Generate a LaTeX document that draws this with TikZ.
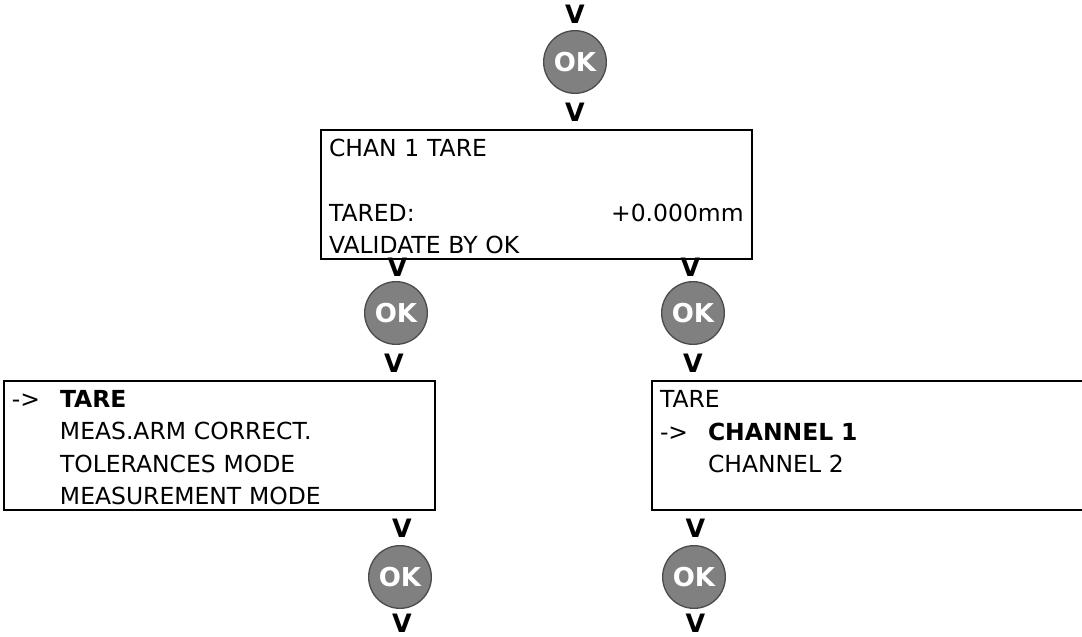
\documentclass[tikz,border=0pt]{standalone}
\usepackage{fontspec}
\setmainfont{DejaVu Sans}
\usetikzlibrary{positioning}

\newcommand{\menuarrow}{\makebox[36pt][l]{->}}
\newcommand{\menuindent}{\hspace*{36pt}}
\newcommand{\menutop}{\rule{0pt}{16pt}}

\tikzset{
  okbutton/.style={circle, draw=black!70, line width=1pt, fill=black!50, text=white,
    minimum size=47pt, inner sep=0pt, outer sep=0pt, font=\fontsize{19.5}{19.5}\selectfont\bfseries},
  vmark/.style={inner sep=0pt, outer sep=0pt, font=\fontsize{19}{19}\selectfont\bfseries},
  menubox/.style={draw, line width=1.5pt, anchor=north west, align=left, inner xsep=6pt, inner ysep=0pt,
    font=\fontsize{17.6}{24.4}\selectfont, minimum height=97pt}
}

\begin{document}
\begin{tikzpicture}[x=0.75pt,y=0.75pt]
  \useasboundingbox (0,0) rectangle (1082,636);

  \node[okbutton] (ok1) at (575,574) {OK};
  \node[okbutton] (ok2) at (396,323) {OK};
  \node[okbutton] (ok3) at (693,323) {OK};
  \node[okbutton] (ok4) at (400,59) {OK};
  \node[okbutton] (ok5) at (694,59) {OK};

  % marks above and below each button
  \node[vmark, above=5pt of ok1] (v1a) {V};
  \node[vmark, below=7pt of ok1] (v1b) {V};
  \node[vmark, above=4pt of ok2, xshift=1pt] (v2a) {V};
  \node[vmark, below=7pt of ok2, xshift=-1.5pt] (v2b) {V};
  \node[vmark, above=4pt of ok3, xshift=-2pt] (v3a) {V};
  \node[vmark, below=7pt of ok3] (v3b) {V};
  \node[vmark, above=6pt of ok4, xshift=1.5pt] (v4a) {V};
  \node[vmark, below=4pt of ok4, xshift=1.5pt] (v4b) {V};
  \node[vmark, above=6pt of ok5, xshift=1pt] (v5a) {V};
  \node[vmark, below=4pt of ok5, xshift=1pt] (v5b) {V};

  % menu screens
  \node[menubox, text width=311pt] (chan) at (320,507) {\menutop CHAN 1 TARE\\[24.4pt]
    TARED:\hfill +0.000mm\\
    VALIDATE BY OK};
  \node[menubox, text width=311pt] (main) at (3,256) {\menutop\menuarrow\textbf{TARE}\\
    \menuindent MEAS.ARM CORRECT.\\
    \menuindent TOLERANCES MODE\\
    \menuindent MEASUREMENT MODE};
  % right side runs past the page edge
  \node[menubox, text width=318pt] (tare) at (651,256) {\menutop TARE\\
    \menuarrow\textbf{CHANNEL 1}\\
    \menuindent CHANNEL 2\\
    \mbox{}};
\end{tikzpicture}
\end{document}
